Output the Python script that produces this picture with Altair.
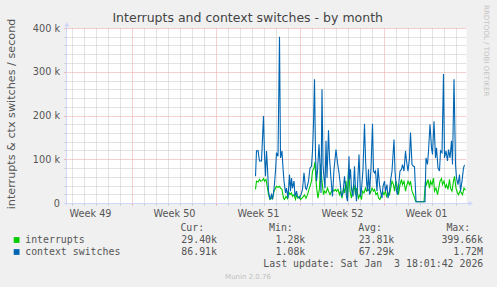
import json
import altair as alt
import pandas as pd

# ---------------- data (time = hours since 2025-12-01 00:00, values in thousands / s)
ctx_hours = [391, 393, 396, 399, 403, 407, 409, 411, 413, 415, 417, 420, 423, 425, 428, 431, 433, 436, 439, 441,
             444, 446, 448, 451, 453, 456, 459, 461, 463, 465, 468, 470, 473, 475, 479, 482, 485, 488, 491, 493,
             497, 500, 503, 505, 507, 509, 511, 513, 515, 518, 520, 522, 524, 526, 528, 530, 532, 534, 537, 539,
             542, 545, 548, 552, 555, 558, 561, 563, 566, 569, 571, 573, 575, 578, 579, 581, 583, 586, 589, 591,
             593, 595, 598, 601, 603, 606, 609, 611, 613, 615, 617, 619, 622, 625, 627, 629, 631, 634, 636, 639,
             641, 644, 646, 649, 651, 654, 656, 659, 661, 664, 668, 670, 673, 675, 678, 680, 683, 685, 688, 691,
             693, 696, 699, 701, 704, 707, 709, 712, 730, 732, 735, 737, 740, 743, 745, 748, 751, 753, 756, 759,
             761, 764, 767, 769, 772, 775, 777, 780, 783, 785, 788, 791, 793, 796, 799, 801, 804, 807, 809]
ctx_values = [61, 119, 120, 96, 96, 199, 111, 61, 119, 80, 27, 8, 19, 8, 31, 73, 115, 107, 380, 103,
              119, 80, 50, 23, 34, 11, 65, 27, 57, 34, 50, 15, 27, 15, 11, 19, 31, 69, 34, 31,
              50, 80, 84, 119, 180, 283, 111, 50, 73, 134, 88, 23, 260, 88, 57, 34, 142, 57, 166, 103,
              55, 15, 77, 122, 92, 69, 38, 15, 23, 61, 38, 15, 4, 107, 54, 77, 31, 15, 84, 31,
              4, 38, 111, 15, 31, 77, 181, 103, 50, 27, 77, 19, 80, 181, 73, 69, 73, 27, 80, 42,
              27, 11, 38, 50, 27, 42, 11, 27, 50, 73, 145, 73, 27, 19, 50, 73, 77, 88, 73, 119,
              96, 73, 103, 161, 88, 84, 83, 3, 3, 103, 88, 119, 180, 126, 111, 187, 103, 126, 80, 73,
              119, 115, 295, 103, 119, 96, 122, 103, 142, 88, 283, 88, 57, 42, 65, 27, 50, 80, 87]

irq_hours = [391, 393, 396, 399, 401, 404, 407, 409, 412, 415, 417, 420, 423, 425, 428, 431, 433, 436, 439, 441,
             444, 447, 449, 452, 455, 457, 460, 463, 465, 468, 471, 473, 476, 479, 481, 484, 487, 489, 492, 495,
             497, 500, 503, 505, 508, 510, 512, 514, 516, 519, 521, 524, 527, 529, 532, 535, 537, 540, 543, 545,
             548, 551, 553, 556, 559, 561, 564, 567, 569, 572, 575, 577, 580, 583, 585, 588, 591, 593, 595, 597,
             600, 603, 605, 608, 611, 613, 616, 619, 621, 624, 627, 629, 632, 635, 637, 640, 643, 645, 648, 651,
             653, 656, 659, 661, 664, 667, 669, 672, 675, 677, 680, 683, 685, 688, 691, 693, 696, 699, 701, 704,
             707, 709, 712, 728, 731, 733, 736, 739, 741, 744, 747, 749, 752, 755, 757, 760, 763, 765, 768, 771,
             773, 776, 779, 781, 784, 787, 789, 792, 795, 797, 800, 803, 805, 808, 811]
irq_values = [31, 50, 48, 54, 50, 51, 56, 50, 54, 34, 19, 8, 11, 10, 27, 34, 38, 36, 38, 34,
              31, 11, 8, 15, 10, 27, 19, 23, 15, 19, 8, 18, 11, 15, 8, 11, 15, 18, 11, 19,
              27, 38, 50, 73, 80, 94, 50, 27, 11, 34, 88, 50, 19, 27, 23, 34, 27, 19, 27, 31,
              27, 31, 27, 31, 19, 27, 11, 34, 23, 50, 11, 80, 27, 11, 27, 42, 19, 34, 23, 11,
              19, 8, 27, 23, 34, 27, 31, 27, 23, 34, 27, 31, 19, 23, 11, 8, 19, 27, 19, 27,
              15, 23, 19, 31, 50, 42, 27, 50, 34, 19, 42, 54, 42, 50, 27, 38, 50, 42, 50, 27,
              19, 11, 3, 3, 50, 42, 54, 34, 50, 42, 57, 27, 34, 19, 31, 50, 56, 42, 50, 34,
              42, 31, 54, 34, 27, 50, 61, 34, 23, 19, 27, 23, 19, 34, 29]

# axis ticks / labels
week_grid_hours = [144, 312, 480, 648]                 # Sunday 00:00
week_label_hours = [60, 228, 396, 564, 732]            # mid-week
week_labels = ["Week 49", "Week 50", "Week 51", "Week 52", "Week 01"]
day_grid_hours = [24, 48, 72, 96, 120, 168, 192, 216, 240, 264, 288, 336, 360, 384, 408, 432, 456,
                  504, 528, 552, 576, 600, 624, 672, 696, 720, 744, 768, 792]
y_major = [0, 100, 200, 300, 400]
y_major_labels = ["0", "100 k", "200 k", "300 k", "400 k"]
y_minor = [20, 40, 60, 80, 120, 140, 160, 180, 220, 240, 260, 280, 320, 340, 360, 380]

series_names = ["interrupts", "context switches"]
series_colors = ["#00CC00", "#0066B3"]
stat_headers = ["Cur:", "Min:", "Avg:", "Max:"]
stats = [["29.40k", "1.28k", "23.81k", "399.66k"],
         ["86.91k", "1.08k", "67.29k", "1.72M"]]

title_text = "Interrupts and context switches - by month"
y_title = "interrupts & ctx switches / second"
last_update = "Last update: Sat Jan \u00a03 18:01:42 2026"
footer = "Munin 2.0.76"
watermark = "RRDTOOL / TOBI OETIKER"

# ---------------- style
SANS = "DejaVu Sans"
MONO = "DejaVu Sans Mono"
TXT = "#555555"
GRID = "#c6c6c6"
MGRID = "#eaa0a0"
AXIS = "#CFD6F8"
W, H = 400, 175

x_scale = alt.Scale(domain=[12, 812], nice=False, zero=False)
y_scale = alt.Scale(domain=[0, 400], nice=False, zero=True)

x_vals = sorted(day_grid_hours + week_grid_hours + week_label_hours)
wk = json.dumps(week_grid_hours)
lh = json.dumps(week_label_hours)
is_week = f"indexof({wk}, datum.value) >= 0"
is_label = f"indexof({lh}, datum.value) >= 0"

x_axis = alt.Axis(
    values=x_vals, orient="bottom", domain=False, title=None,
    grid=True, gridDash=[1, 1], gridWidth=1,
    gridColor={"condition": {"test": is_week, "value": MGRID}, "value": GRID},
    gridOpacity={"condition": {"test": is_label, "value": 0}, "value": 1},
    ticks=True, tickSize=2, tickWidth=1,
    tickColor={"condition": {"test": is_week, "value": MGRID}, "value": GRID},
    tickOpacity={"condition": {"test": is_label, "value": 0}, "value": 1},
    labelExpr=f"{is_label} ? {json.dumps(week_labels)}[indexof({lh}, datum.value)] : ''",
    labelOverlap=False, labelFlush=False, labelPadding=3,
    labelFont=SANS, labelFontSize=9.7, labelColor=TXT,
)

ym = json.dumps(y_major)
y_axis = alt.Axis(
    values=sorted(y_major + y_minor), orient="left", domain=False, title=None,
    grid=True, gridDash=[1, 1], gridWidth=1,
    gridColor={"condition": {"test": f"indexof({ym}, datum.value) >= 0", "value": MGRID}, "value": GRID},
    gridOpacity={"condition": {"test": "datum.value == 0", "value": 0}, "value": 1},
    ticks=True, tickSize=2, tickWidth=1,
    tickColor={"condition": {"test": f"indexof({ym}, datum.value) >= 0", "value": MGRID}, "value": GRID},
    labelExpr=f"indexof({ym}, datum.value) >= 0 ? {json.dumps(y_major_labels)}[indexof({ym}, datum.value)] : ''",
    labelOverlap=False, labelFlush=False, labelPadding=4.5,
    labelFont=SANS, labelFontSize=9.7, labelColor=TXT,
)

irq_df = pd.DataFrame({"hour": irq_hours, "value": irq_values})
ctx_df = pd.DataFrame({"hour": ctx_hours, "value": ctx_values})

def line(df, color):
    return alt.Chart(df).mark_line(color=color, strokeWidth=1.1).encode(
        x=alt.X("hour:Q", scale=x_scale, axis=x_axis),
        y=alt.Y("value:Q", scale=y_scale, axis=y_axis),
    )

def txt(text, x, y, size=9.9, align="left", color=TXT, font=MONO, angle=0, baseline="alphabetic"):
    return alt.Chart(pd.DataFrame({"t": [text]})).mark_text(
        align=align, baseline=baseline, fontSize=size, font=font, color=color, angle=angle
    ).encode(text="t:N", x=alt.value(x), y=alt.value(y))

layers = [line(irq_df, series_colors[0]), line(ctx_df, series_colors[1])]

# axis lines with arrows
dummy = pd.DataFrame({"a": [0]})
layers.append(alt.Chart(dummy).mark_rule(color=AXIS, strokeWidth=1).encode(
    x=alt.value(-2), x2=alt.value(403), y=alt.value(175.5)))
layers.append(alt.Chart(dummy).mark_rule(color=AXIS, strokeWidth=1).encode(
    x=alt.value(0.5), y=alt.value(-3), y2=alt.value(177)))
layers.append(alt.Chart(dummy).mark_point(shape="triangle-right", filled=True, color=AXIS, size=26, opacity=1).encode(
    x=alt.value(404.8), y=alt.value(175.5)))
layers.append(alt.Chart(dummy).mark_point(shape="triangle-up", filled=True, color=AXIS, size=26, opacity=1).encode(
    x=alt.value(0.8), y=alt.value(-3.8)))

# titles
layers.append(txt(title_text, 181.7, -5.6, size=12.5, align="center", font=SANS, color="#444444"))
layers.append(txt(y_title, -51, 86, size=11.2, align="center", font=SANS, angle=270))
layers.append(txt(watermark, 417.8, -23, size=7.1, align="left", font=SANS, color="#c4c4c4", angle=90))

# legend
col_ends = [151.0, 239.3, 328.3, 417.0]
col_starts = [114.4, 203.0, 292.2, 380.4]
for h, xs in zip(stat_headers, col_starts):
    layers.append(txt(h, xs, 203))
row_y = [215.3, 227.3]
for i, name in enumerate(series_names):
    layers.append(alt.Chart(dummy).mark_rect(color=series_colors[i]).encode(
        x=alt.value(-52.3), x2=alt.value(-46.5), y=alt.value(row_y[i] - 6.2), y2=alt.value(row_y[i] - 0.4)))
    layers.append(txt(name, -40.8, row_y[i]))
    for s, xe in zip(stats[i], col_ends):
        layers.append(txt(s, xe, row_y[i], align="right"))
layers.append(txt(last_update, 417.3, 239.3, align="right"))
layers.append(txt(footer, 182, 251, size=7, align="center", font=SANS, color="#c0c0c0"))

chart = alt.layer(*layers).properties(
    width=W, height=H,
    autosize=alt.AutoSizeParams(type="none"),
    padding={"left": 66, "top": 28, "right": 31, "bottom": 84},
    background="#F0F0F0",
).configure_view(fill="#ffffff", stroke="transparent")

chart.save("out.html", embed_options={"renderer": "svg", "actions": False})
